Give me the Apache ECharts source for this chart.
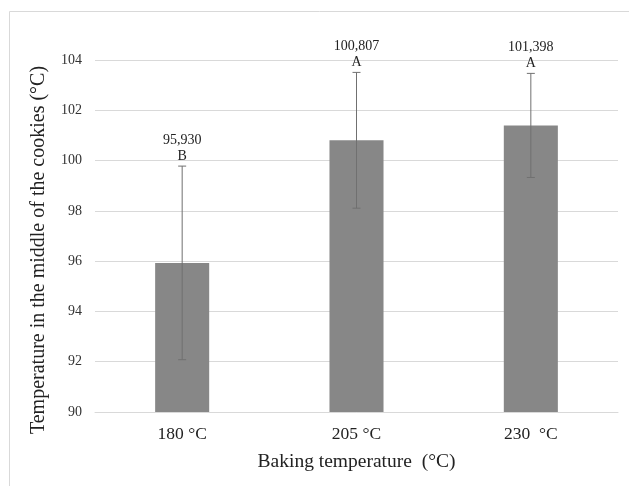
<!DOCTYPE html>
<html>
<head>
<meta charset="utf-8">
<script src="https://cdn.jsdelivr.net/npm/echarts@6/dist/echarts.min.js"></script>
<style>
  html, body { margin: 0; padding: 0; background: #fff; }
  #chart { width: 629px; height: 486px; }
</style>
</head>
<body>
<div id="chart"></div>
<script>
// Baking temperature categories and measured core temperatures
const categories = ['180 °C', '205 °C', '230  °C'];
const meanTemps = [95.930, 100.807, 101.398];
const stdDevs = [3.85, 2.70, 2.07];
const groupLetters = ['B', 'A', 'A'];
const yTicks = { min: 90, max: 104, interval: 2 };
const yTitle = 'Temperature in the middle of the cookies (°C)';

const serif = 'Liberation Serif';
const fmt = v => v.toFixed(3).replace('.', ',');

const chart = echarts.init(document.getElementById('chart'));

const errorData = meanTemps.map((m, i) => [i, m - stdDevs[i], m + stdDevs[i], m]);

chart.setOption({
  animation: false,
  graphic: [
    {
      type: 'rect',
      shape: { x: 9.5, y: 11.5, width: 700, height: 600 },
      style: { fill: 'none', stroke: '#d9d9d9', lineWidth: 1 },
      silent: true
    },
    {
      // vertical axis title, rotated to read bottom-to-top
      type: 'text',
      x: 39, y: 250,
      rotation: Math.PI / 2,
      style: {
        text: yTitle,
        align: 'center', verticalAlign: 'middle',
        fontFamily: serif, fontSize: 20, fill: '#222'
      },
      silent: true
    }
  ],
  grid: { left: 95, right: 11, top: 60, bottom: 74 },
  xAxis: {
    type: 'category',
    data: categories,
    axisLine: { lineStyle: { color: '#d9d9d9' } },
    axisTick: { show: false },
    axisLabel: { color: '#222', fontFamily: serif, fontSize: 17.5, margin: 13 },
    name: 'Baking temperature  (°C)',
    nameLocation: 'middle',
    nameGap: 40,
    nameTextStyle: { color: '#222', fontFamily: serif, fontSize: 19.5 }
  },
  yAxis: {
    type: 'value',
    min: yTicks.min,
    max: yTicks.max,
    interval: yTicks.interval,
    axisLine: { show: false },
    axisTick: { show: false },
    splitLine: { lineStyle: { color: '#d9d9d9' } },
    axisLabel: { color: '#333', fontFamily: serif, fontSize: 14, margin: 13 }
  },
  series: [
    {
      type: 'bar',
      data: meanTemps,
      barWidth: '31%',
      itemStyle: { color: '#878787' }
    },
    {
      type: 'custom',
      data: errorData,
      z: 10,
      renderItem: function (params, api) {
        const i = api.value(0);
        const low = api.coord([i, api.value(1)]);
        const high = api.coord([i, api.value(2)]);
        const cap = 4;
        const stroke = { stroke: '#707070', lineWidth: 1 };
        return {
          type: 'group',
          children: [
            { type: 'line', shape: { x1: high[0], y1: high[1], x2: low[0], y2: low[1] }, style: stroke },
            { type: 'line', shape: { x1: high[0] - cap, y1: high[1], x2: high[0] + cap, y2: high[1] }, style: stroke },
            { type: 'line', shape: { x1: low[0] - cap, y1: low[1], x2: low[0] + cap, y2: low[1] }, style: stroke },
            {
              type: 'text',
              style: {
                x: high[0], y: high[1] - 2,
                text: fmt(api.value(3)) + '\n' + groupLetters[params.dataIndex],
                align: 'center', verticalAlign: 'bottom',
                fontFamily: serif, fontSize: 14, lineHeight: 16, fill: '#222'
              }
            }
          ]
        };
      }
    }
  ]
});
</script>
</body>
</html>
